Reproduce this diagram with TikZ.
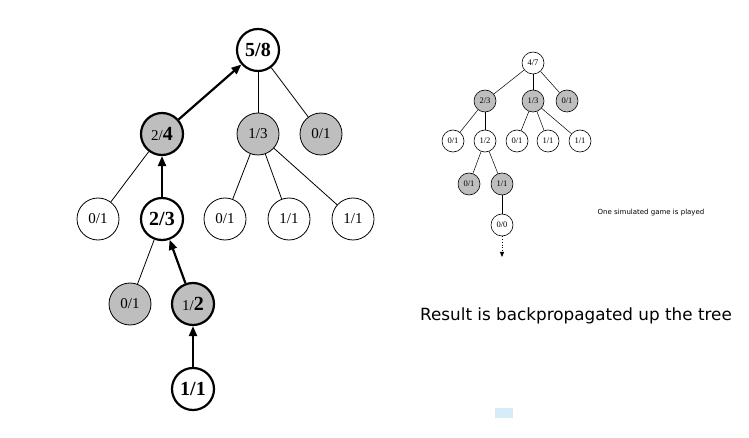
\documentclass[tikz,border=0pt]{standalone}
\usepackage{fontspec}
\setmainfont{Liberation Serif}
\newfontfamily\slidefont{DejaVu Sans}
\usetikzlibrary{arrows.meta}
\definecolor{visited}{RGB}{190,190,190}
\definecolor{marker}{RGB}{214,236,246}
\tikzset{
	bignode/.style={circle, draw, line width=0.8pt, minimum size=42pt, inner sep=0pt, font=\fontsize{15}{15}\selectfont},
	onpath/.style={line width=2.2pt},
	smallnode/.style={circle, draw, line width=0.6pt, minimum size=22pt, inner sep=0pt, font=\fontsize{8.5}{8.5}\selectfont},
	grey/.style={fill=visited},
	backprop/.style={line width=2.2pt, -{Triangle[length=10pt,width=8pt]}},
	edge/.style={line width=0.8pt}
}
\newcommand{\bigcount}[1]{{\fontsize{20}{20}\selectfont\bfseries #1}}

\begin{document}
\begin{tikzpicture}[x=1pt, y=-1pt]
			\useasboundingbox (0,0) rectangle (749,438);
			% Tree after backpropagation
			\node[bignode, onpath] (root) at (258,50) {\bigcount{5/8}};
			\node[bignode, onpath, grey] (a) at (162,134) {2/\bigcount{4}};
			\node[bignode, grey] (b) at (258,134) {1/3};
			\node[bignode, grey] (c) at (321,134) {0/1};
			\node[bignode] (aa) at (98,219) {0/1};
			\node[bignode, onpath] (ab) at (162,219) {\bigcount{2/3}};
			\node[bignode] (ba) at (225,219) {0/1};
			\node[bignode] (bb) at (289,219) {1/1};
			\node[bignode] (bc) at (353,219) {1/1};
			\node[bignode, grey] (aba) at (130,304) {0/1};
			\node[bignode, onpath, grey] (abb) at (193,304) {1/\bigcount{2}};
			\node[bignode, onpath] (leaf) at (193,389) {\bigcount{1/1}};
			\draw[edge] (root) -- (b);
			\draw[edge] (root) -- (c);
			\draw[edge] (a) -- (aa);
			\draw[edge] (b) -- (ba);
			\draw[edge] (b) -- (bb);
			\draw[edge] (b) -- (bc);
			\draw[edge] (ab) -- (aba);
			% Path back to the root
			\draw[backprop] (a) -- (root);
			\draw[backprop] (ab) -- (a);
			\draw[backprop] (abb) -- (ab);
			\draw[backprop] (leaf) -- (abb);

			% Small tree before the update
			\node[smallnode] (t) at (533,63) {4/7};
			\node[smallnode, grey] (ta) at (485,101) {2/3};
			\node[smallnode, grey] (tb) at (533,101) {1/3};
			\node[smallnode, grey] (tc) at (567,101) {0/1};
			\node[smallnode] (taa) at (453,141) {0/1};
			\node[smallnode] (tab) at (485,141) {1/2};
			\node[smallnode] (tba) at (517,141) {0/1};
			\node[smallnode] (tbb) at (548,141) {1/1};
			\node[smallnode] (tbc) at (580,141) {1/1};
			\node[smallnode, grey] (taba) at (469,184) {0/1};
			\node[smallnode, grey] (tabb) at (502,184) {1/1};
			\node[smallnode] (tnew) at (502,225) {0/0};
			\coordinate (tend) at (502,257);
			\foreach \u/\v in {t/ta, t/tb, t/tc, ta/taa, ta/tab, tb/tba, tb/tbb, tb/tbc, tab/taba, tab/tabb, tabb/tnew}
				\draw[line width=0.5pt] (\u) -- (\v);
			\draw[dotted, line width=0.8pt, -{Triangle[length=5pt,width=4pt]}] (tnew) -- (tend);

			\node[font=\slidefont\fontsize{7}{7}\selectfont] (played) at (651,213) {One simulated game is played};
			\node[font=\slidefont\fontsize{16.8}{16.8}\selectfont] (result) at (576,316) {Result is backpropagated up the tree};
			\fill[marker] (495,408) rectangle (513,418);
\end{tikzpicture}
\end{document}
